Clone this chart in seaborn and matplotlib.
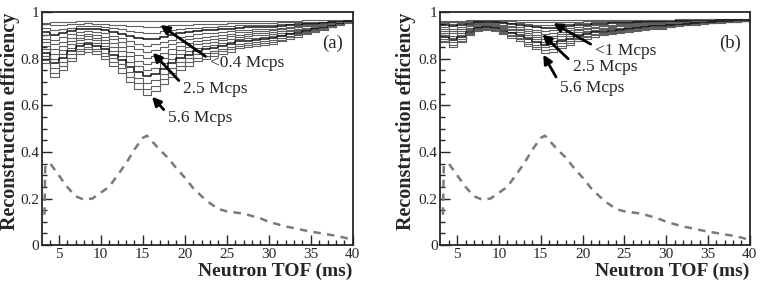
import numpy as np
import pandas as pd
import matplotlib
matplotlib.use('Agg')
import matplotlib.pyplot as plt
import seaborn as sns

# ---- data: reconstruction efficiency per 1 ms TOF bin (3..40 ms) ----
tof_bins = list(range(3, 41))  # bin edges

# panel (a): curves from lowest rate (top) to 5.6 Mcps (bottom)
eff_a = [
    [0.955, 0.957, 0.958, 0.960, 0.961, 0.962, 0.962, 0.963, 0.963, 0.963, 0.963, 0.963, 0.963, 0.963, 0.963, 0.963, 0.963,
     0.963, 0.963, 0.963, 0.963, 0.963, 0.963, 0.963, 0.963, 0.963, 0.963, 0.964, 0.964, 0.964, 0.964, 0.965, 0.965, 0.965,
     0.965, 0.966, 0.966],
    [0.948, 0.943, 0.945, 0.949, 0.951, 0.952, 0.951, 0.949, 0.947, 0.944, 0.941, 0.939, 0.937, 0.938, 0.940, 0.943, 0.945,
     0.947, 0.949, 0.949, 0.950, 0.951, 0.952, 0.953, 0.954, 0.954, 0.954, 0.955, 0.956, 0.957, 0.957, 0.958, 0.959, 0.960,
     0.961, 0.962, 0.962],
    [0.933, 0.922, 0.928, 0.934, 0.939, 0.941, 0.939, 0.936, 0.931, 0.926, 0.919, 0.914, 0.910, 0.912, 0.918, 0.922, 0.928,
     0.931, 0.934, 0.936, 0.937, 0.939, 0.941, 0.943, 0.944, 0.945, 0.946, 0.947, 0.948, 0.950, 0.952, 0.953, 0.955, 0.957,
     0.958, 0.960, 0.962],
    [0.917, 0.902, 0.910, 0.920, 0.927, 0.930, 0.927, 0.922, 0.915, 0.907, 0.897, 0.890, 0.884, 0.887, 0.895, 0.902, 0.910,
     0.915, 0.920, 0.922, 0.925, 0.927, 0.930, 0.934, 0.935, 0.936, 0.937, 0.938, 0.941, 0.944, 0.946, 0.949, 0.951, 0.953,
     0.956, 0.959, 0.961],
    [0.902, 0.882, 0.892, 0.905, 0.915, 0.919, 0.915, 0.909, 0.899, 0.889, 0.875, 0.865, 0.857, 0.862, 0.872, 0.882, 0.892,
     0.899, 0.905, 0.909, 0.912, 0.915, 0.919, 0.924, 0.925, 0.927, 0.929, 0.930, 0.934, 0.937, 0.940, 0.944, 0.947, 0.950,
     0.954, 0.957, 0.960],
    [0.887, 0.862, 0.874, 0.891, 0.903, 0.908, 0.903, 0.895, 0.883, 0.870, 0.853, 0.841, 0.831, 0.837, 0.849, 0.862, 0.874,
     0.883, 0.891, 0.895, 0.899, 0.903, 0.908, 0.914, 0.916, 0.918, 0.920, 0.922, 0.926, 0.931, 0.935, 0.939, 0.943, 0.947,
     0.951, 0.956, 0.960],
    [0.872, 0.842, 0.857, 0.876, 0.891, 0.896, 0.891, 0.882, 0.867, 0.852, 0.831, 0.816, 0.804, 0.812, 0.827, 0.842, 0.857,
     0.867, 0.876, 0.882, 0.886, 0.891, 0.896, 0.904, 0.906, 0.909, 0.912, 0.914, 0.919, 0.924, 0.929, 0.934, 0.939, 0.944,
     0.949, 0.954, 0.959],
    [0.856, 0.821, 0.839, 0.862, 0.880, 0.885, 0.880, 0.868, 0.850, 0.833, 0.810, 0.792, 0.778, 0.786, 0.804, 0.821, 0.839,
     0.850, 0.862, 0.868, 0.874, 0.880, 0.885, 0.894, 0.897, 0.900, 0.903, 0.906, 0.912, 0.918, 0.923, 0.929, 0.935, 0.941,
     0.947, 0.953, 0.958],
    [0.841, 0.801, 0.821, 0.848, 0.868, 0.874, 0.868, 0.854, 0.834, 0.814, 0.788, 0.768, 0.751, 0.761, 0.781, 0.801, 0.821,
     0.834, 0.848, 0.854, 0.861, 0.868, 0.874, 0.884, 0.888, 0.891, 0.894, 0.898, 0.904, 0.911, 0.918, 0.924, 0.931, 0.938,
     0.944, 0.951, 0.958],
    [0.826, 0.781, 0.803, 0.833, 0.856, 0.863, 0.856, 0.841, 0.818, 0.796, 0.766, 0.743, 0.725, 0.736, 0.758, 0.781, 0.803,
     0.818, 0.833, 0.841, 0.848, 0.856, 0.863, 0.875, 0.878, 0.882, 0.886, 0.889, 0.897, 0.905, 0.912, 0.920, 0.927, 0.934,
     0.942, 0.950, 0.957],
    [0.811, 0.760, 0.786, 0.819, 0.844, 0.852, 0.844, 0.827, 0.802, 0.777, 0.744, 0.719, 0.698, 0.711, 0.736, 0.760, 0.786,
     0.802, 0.819, 0.827, 0.835, 0.844, 0.852, 0.865, 0.869, 0.873, 0.877, 0.881, 0.890, 0.898, 0.906, 0.915, 0.923, 0.931,
     0.940, 0.948, 0.956],
    [0.795, 0.740, 0.768, 0.804, 0.832, 0.841, 0.832, 0.814, 0.786, 0.759, 0.722, 0.694, 0.672, 0.685, 0.713, 0.740, 0.768,
     0.786, 0.804, 0.814, 0.823, 0.832, 0.841, 0.855, 0.859, 0.864, 0.869, 0.873, 0.882, 0.892, 0.901, 0.910, 0.919, 0.928,
     0.937, 0.947, 0.956],
    [0.780, 0.720, 0.750, 0.790, 0.820, 0.830, 0.820, 0.800, 0.770, 0.740, 0.700, 0.670, 0.645, 0.660, 0.690, 0.720, 0.750,
     0.770, 0.790, 0.800, 0.810, 0.820, 0.830, 0.845, 0.850, 0.855, 0.860, 0.865, 0.875, 0.885, 0.895, 0.905, 0.915, 0.925,
     0.935, 0.945, 0.955],
]

# panel (b)
eff_b = [
    [0.962, 0.963, 0.964, 0.966, 0.967, 0.968, 0.968, 0.968, 0.968, 0.968, 0.968, 0.968, 0.968, 0.968, 0.968, 0.968, 0.968,
     0.968, 0.968, 0.968, 0.968, 0.968, 0.968, 0.968, 0.968, 0.968, 0.968, 0.968, 0.969, 0.969, 0.969, 0.969, 0.969, 0.970,
     0.970, 0.970, 0.970],
    [0.960, 0.958, 0.960, 0.962, 0.964, 0.964, 0.964, 0.963, 0.962, 0.960, 0.959, 0.957, 0.956, 0.957, 0.958, 0.959, 0.960,
     0.961, 0.962, 0.962, 0.963, 0.963, 0.964, 0.964, 0.964, 0.965, 0.965, 0.965, 0.966, 0.966, 0.966, 0.966, 0.967, 0.967,
     0.967, 0.967, 0.967],
    [0.952, 0.948, 0.952, 0.957, 0.960, 0.961, 0.960, 0.958, 0.955, 0.953, 0.949, 0.947, 0.944, 0.945, 0.948, 0.950, 0.953,
     0.954, 0.956, 0.957, 0.958, 0.958, 0.959, 0.960, 0.961, 0.962, 0.962, 0.963, 0.963, 0.964, 0.964, 0.965, 0.965, 0.966,
     0.966, 0.967, 0.967],
    [0.943, 0.939, 0.943, 0.951, 0.956, 0.957, 0.956, 0.952, 0.949, 0.945, 0.940, 0.936, 0.932, 0.934, 0.937, 0.941, 0.945,
     0.947, 0.950, 0.951, 0.952, 0.954, 0.955, 0.956, 0.957, 0.958, 0.958, 0.960, 0.961, 0.962, 0.963, 0.963, 0.964, 0.965,
     0.965, 0.966, 0.966],
    [0.935, 0.929, 0.935, 0.945, 0.952, 0.954, 0.952, 0.947, 0.942, 0.937, 0.930, 0.925, 0.920, 0.922, 0.927, 0.932, 0.937,
     0.940, 0.944, 0.945, 0.947, 0.949, 0.950, 0.952, 0.954, 0.955, 0.955, 0.957, 0.959, 0.960, 0.961, 0.962, 0.963, 0.964,
     0.964, 0.965, 0.966],
    [0.927, 0.919, 0.927, 0.940, 0.948, 0.950, 0.948, 0.942, 0.936, 0.929, 0.921, 0.915, 0.908, 0.911, 0.917, 0.923, 0.929,
     0.933, 0.938, 0.940, 0.942, 0.944, 0.946, 0.948, 0.950, 0.952, 0.952, 0.954, 0.956, 0.958, 0.959, 0.960, 0.961, 0.963,
     0.963, 0.964, 0.965],
    [0.919, 0.909, 0.919, 0.934, 0.944, 0.947, 0.944, 0.937, 0.929, 0.922, 0.911, 0.904, 0.897, 0.899, 0.907, 0.914, 0.922,
     0.926, 0.932, 0.934, 0.937, 0.939, 0.942, 0.944, 0.947, 0.949, 0.949, 0.952, 0.954, 0.956, 0.957, 0.959, 0.960, 0.962,
     0.962, 0.964, 0.965],
    [0.911, 0.899, 0.911, 0.928, 0.940, 0.943, 0.940, 0.931, 0.923, 0.914, 0.902, 0.893, 0.885, 0.888, 0.896, 0.905, 0.914,
     0.920, 0.925, 0.928, 0.931, 0.934, 0.937, 0.940, 0.943, 0.946, 0.946, 0.949, 0.952, 0.953, 0.955, 0.957, 0.959, 0.960,
     0.962, 0.963, 0.964],
    [0.903, 0.889, 0.903, 0.923, 0.936, 0.939, 0.936, 0.926, 0.916, 0.906, 0.893, 0.883, 0.873, 0.876, 0.886, 0.896, 0.906,
     0.913, 0.919, 0.923, 0.926, 0.929, 0.933, 0.936, 0.939, 0.943, 0.943, 0.946, 0.949, 0.951, 0.953, 0.955, 0.957, 0.959,
     0.961, 0.962, 0.963],
    [0.894, 0.880, 0.894, 0.917, 0.932, 0.936, 0.932, 0.921, 0.910, 0.898, 0.883, 0.872, 0.861, 0.865, 0.876, 0.887, 0.898,
     0.906, 0.913, 0.917, 0.921, 0.925, 0.928, 0.932, 0.936, 0.939, 0.939, 0.943, 0.947, 0.949, 0.952, 0.954, 0.956, 0.958,
     0.960, 0.961, 0.963],
    [0.886, 0.870, 0.886, 0.911, 0.928, 0.932, 0.928, 0.916, 0.903, 0.891, 0.874, 0.861, 0.849, 0.853, 0.866, 0.878, 0.891,
     0.899, 0.907, 0.911, 0.916, 0.920, 0.924, 0.928, 0.932, 0.936, 0.936, 0.941, 0.945, 0.947, 0.950, 0.952, 0.955, 0.957,
     0.959, 0.961, 0.962],
    [0.878, 0.860, 0.878, 0.906, 0.924, 0.929, 0.924, 0.910, 0.897, 0.883, 0.864, 0.851, 0.837, 0.842, 0.855, 0.869, 0.883,
     0.892, 0.901, 0.906, 0.910, 0.915, 0.919, 0.924, 0.929, 0.933, 0.933, 0.938, 0.942, 0.945, 0.948, 0.951, 0.953, 0.956,
     0.958, 0.960, 0.962],
    [0.870, 0.850, 0.870, 0.900, 0.920, 0.925, 0.920, 0.905, 0.890, 0.875, 0.855, 0.840, 0.825, 0.830, 0.845, 0.860, 0.875,
     0.885, 0.895, 0.900, 0.905, 0.910, 0.915, 0.920, 0.925, 0.930, 0.930, 0.935, 0.940, 0.943, 0.946, 0.949, 0.952, 0.955,
     0.957, 0.959, 0.961],
]
black_curves = [3, 9]

# neutron TOF spectrum (arbitrary units, dashed)
spec_x = [3.3, 3.4, 4, 5, 6, 7, 8, 9, 10, 11, 12, 13, 14, 15, 15.5, 16, 17, 18, 19, 20, 21, 22, 23, 24, 25, 26, 27, 28,
          29, 30, 31, 32, 33, 34, 35, 36, 37, 38, 39, 40]
spec_y = [0.13, 0.34, 0.35, 0.30, 0.25, 0.21, 0.195, 0.20, 0.225, 0.25, 0.30, 0.35, 0.41, 0.46, 0.47, 0.45, 0.41,
          0.375, 0.33, 0.29, 0.245, 0.21, 0.18, 0.155, 0.145, 0.14, 0.135, 0.125, 0.115, 0.10, 0.09, 0.08, 0.073,
          0.065, 0.058, 0.052, 0.046, 0.04, 0.032, 0.022]

panel_tags = ['(a)', '(b)']
rate_labels_a = ['<0.4 Mcps', '2.5 Mcps', '5.6 Mcps']
rate_labels_b = ['<1 Mcps', '2.5 Mcps', '5.6 Mcps']

sns.set_style('ticks')
plt.rcParams['font.family'] = ['Liberation Serif', 'DejaVu Serif']

fig = plt.figure(figsize=(7.62, 2.84), dpi=100)
ax_a = fig.add_axes([0.055, 0.137, 0.408, 0.820])
ax_b = fig.add_axes([0.578, 0.137, 0.406, 0.820])

# annotation placement: (text xy, arrow tip)
ann_a = [((23.0, 0.78), (17.1, 0.945)), ((19.8, 0.67), (16.2, 0.826)), ((18.0, 0.545), (16.1, 0.637))]
ann_b = [((21.5, 0.835), (16.5, 0.953)), ((18.8, 0.765), (15.2, 0.905)), ((17.3, 0.675), (15.3, 0.818))]

for ax, curves, labels, ann, tag in [(ax_a, eff_a, rate_labels_a, ann_a, panel_tags[0]),
                                     (ax_b, eff_b, rate_labels_b, ann_b, panel_tags[1])]:
    for i, c in enumerate(curves):
        col = '#111111' if i in black_curves else '#606060'
        lw = 1.1 if i in black_curves else 0.8
        sns.lineplot(x=tof_bins, y=list(c) + [c[-1]], drawstyle='steps-post', color=col, lw=lw, ax=ax)
    sns.lineplot(x=spec_x, y=spec_y, color='#7a7a7a', lw=1.8, ax=ax, sort=False)
    ax.lines[-1].set_dashes([3, 2.5])

    ax.set_xlim(3, 40)
    ax.set_ylim(0, 1)
    ax.set_xticks([5, 10, 15, 20, 25, 30, 35, 40])
    ax.set_xticks(range(4, 41), minor=True)
    ax.set_yticks([0, 0.2, 0.4, 0.6, 0.8, 1])
    ax.set_yticklabels(['0', '0.2', '0.4', '0.6', '0.8', '1'])
    ax.set_yticks(np.arange(0, 1.001, 0.05), minor=True)
    ax.tick_params(which='both', direction='in', top=False, right=False, labelsize=11, width=1.0)
    ax.tick_params(which='major', length=7, pad=2)
    ax.tick_params(which='minor', length=3.5)
    for s in ax.spines.values():
        s.set_linewidth(1.3)
        s.set_visible(True)

    ax.set_xlabel('Neutron TOF (ms)', fontsize=14, fontweight='bold', loc='right')
    ax.xaxis.set_label_coords(1.0, -0.075)
    ax.set_ylabel('Reconstruction efficiency', fontsize=14.5, fontweight='bold', loc='top')

    for (txy, tip), lab in zip(ann, labels):
        ax.annotate(lab, xy=tip, xytext=txy, fontsize=12.5, ha='left', va='center',
                    arrowprops=dict(arrowstyle='-|>', color='black', lw=2.0, mutation_scale=13,
                                    shrinkA=1, shrinkB=0, relpos=(0.0, 0.75)))
    ax.text(0.935, 0.865, tag, transform=ax.transAxes, fontsize=13.5, ha='center', va='center')

ax_a.yaxis.set_label_coords(-0.07, 1.0)
ax_b.yaxis.set_label_coords(-0.08, 1.0)

fig.savefig('out.png', dpi=100)
